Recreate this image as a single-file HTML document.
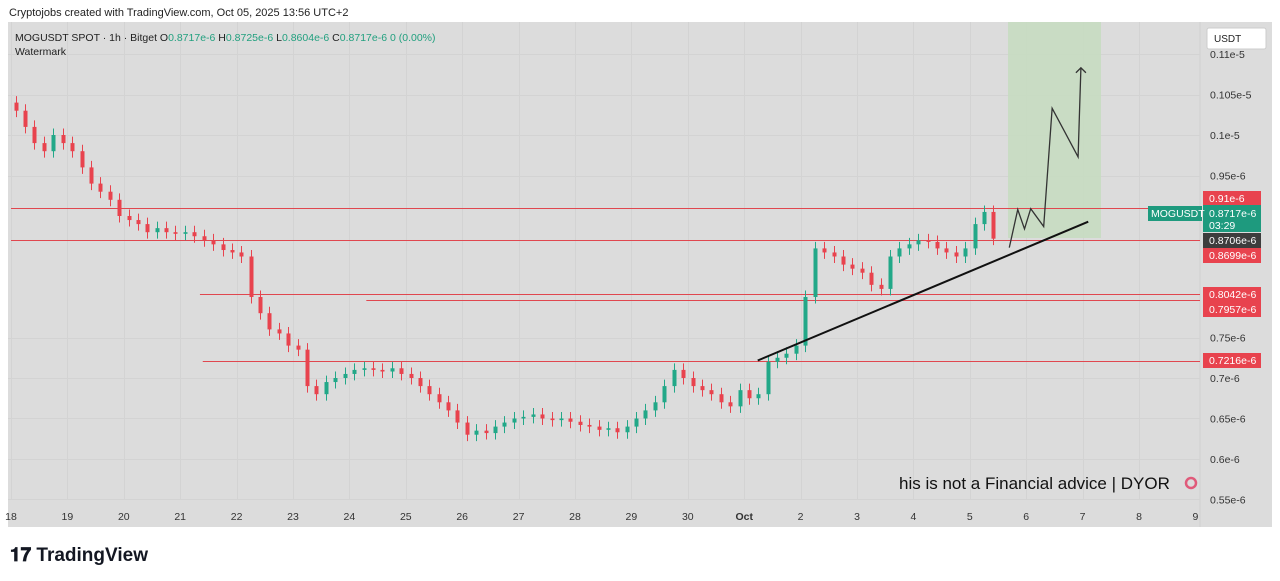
<!DOCTYPE html>
<html><head><meta charset="utf-8"><style>
body{margin:0;width:1280px;height:581px;background:#fff;font-family:"Liberation Sans",sans-serif;overflow:hidden;position:relative}
</style></head><body>
<div style="position:absolute;left:9px;top:7px;font-size:11px;color:#222">Cryptojobs created with TradingView.com, Oct 05, 2025 13:56 UTC+2</div>
<svg id="c" width="1280" height="581" style="position:absolute;left:0;top:0" font-family="Liberation Sans, sans-serif">
<rect x="8" y="22" width="1264" height="505" fill="#dcdcdc"/>
<line x1="1200" y1="22" x2="1200" y2="527" stroke="#cfcfcf"/>
<g id="grid"></g>
<rect x="1008" y="22" width="93" height="216" fill="#c5dcc0" opacity="0.85"/>
<g id="hlines"></g>
<g id="candles"></g>
<line id="trend" stroke="#111" stroke-width="2"/>
<polyline id="proj" fill="none" stroke="#333" stroke-width="1.3"/>
<g id="yt" font-size="10.5" fill="#333"></g>
<g id="xt" font-size="10.5" fill="#333"></g>
<g id="labels" font-size="10.5"></g>
<rect x="1207" y="28" width="59" height="21" fill="#fff" stroke="#ccc" rx="2"/>
<text x="1214" y="42" font-size="10" fill="#222">USDT</text>
<text x="15" y="41" font-size="10.5" fill="#222">MOGUSDT SPOT · 1h · Bitget <tspan>O</tspan><tspan fill="#22a07f">0.8717e-6</tspan> <tspan>H</tspan><tspan fill="#22a07f">0.8725e-6</tspan> <tspan>L</tspan><tspan fill="#22a07f">0.8604e-6</tspan> <tspan>C</tspan><tspan fill="#22a07f">0.8717e-6  0 (0.00%)</tspan></text>
<text x="15" y="55" font-size="10.5" fill="#222">Watermark</text>
<text x="899" y="489" font-size="17" fill="#111">his is not a Financial advice | DYOR</text>
<circle cx="1191" cy="483" r="5" fill="none" stroke="#e05a7a" stroke-width="2.5"/>
<text x="10" y="561" font-size="19" font-weight="bold" fill="#131722">𝟏𝟕 TradingView</text>
</svg>
<script>
const closes=[1.03,1.01,0.99,0.98,1.00,0.99,
0.98,0.96,0.94,0.93,0.92,0.90,
0.895,0.89,0.88,0.885,0.88,0.878,
0.88,0.875,0.87,0.865,0.858,0.855,
0.85,0.80,0.78,0.76,0.755,0.74,
0.735,0.69,0.68,0.695,0.70,0.705,
0.71,0.712,0.71,0.708,0.712,0.705,
0.70,0.69,0.68,0.67,0.66,0.645,
0.63,0.635,0.632,0.64,0.645,0.65,
0.652,0.655,0.65,0.648,0.65,0.646,
0.642,0.64,0.636,0.638,0.633,0.64,
0.65,0.66,0.67,0.69,0.71,0.70,
0.69,0.685,0.68,0.67,0.665,0.685,
0.675,0.68,0.72,0.725,0.73,0.74,
0.80,0.86,0.855,0.85,0.84,0.835,
0.83,0.815,0.81,0.85,0.86,0.865,
0.87,0.868,0.86,0.855,0.85,0.86,
0.89,0.905,0.872];
const firstOpen=1.04;
const yTicks=[1.1,1.05,1.0,0.95,0.75,0.7,0.65,0.6,0.55];
const yTickLabels=["0.11e-5","0.105e-5","0.1e-5","0.95e-6","0.75e-6","0.7e-6","0.65e-6","0.6e-6","0.55e-6"];
const xDays=[18,19,20,21,22,23,24,25,26,27,28,29,30,31,32,33,34,35,36,37,38];
const xLabels=["18","19","20","21","22","23","24","25","26","27","28","29","30","Oct","2","3","4","5","6","7","8","9"];
const levels=[0.91,0.8706,0.8042,0.7957,0.7216];
const levelStarts=[18,18,21.35,24.3,21.4];
const trendPts=[[31.24,0.7216],[37.1,0.893]];
const projDays=[35.7,35.85,35.97,36.08,36.31,36.46,36.92,36.97];
const projVals=[0.861,0.908,0.884,0.909,0.887,1.033,0.973,1.083];
const Y=p=>459-(p-0.6)/0.05*40.5;
const X=d=>11+(d-18)*56.4;
const R=v=>Math.round(v)+0.5;
const NS='http://www.w3.org/2000/svg';
function mk(t,a,par){const e=document.createElementNS(NS,t);for(const k in a)e.setAttribute(k,a[k]);document.getElementById(par).appendChild(e);return e;}
yTicks.forEach((t,i)=>{
 const g=mk('line',{x1:8,x2:1200,y1:R(Y(t)),y2:R(Y(t)),stroke:'#d3d3d3'},'grid');
 
 
 const tx=mk('text',{x:1210,y:Y(t)+4},'yt');tx.textContent=yTickLabels[i];
 
 
});
xDays.forEach((d,i)=>{
 const g=mk('line',{x1:R(X(d)),x2:R(X(d)),y1:22,y2:500,stroke:'#d3d3d3'},'grid');
 
 
});
for(let i=0;i<xLabels.length;i++){const d=18+i;const tx=mk('text',{x:X(d),y:520,'text-anchor':'middle','font-weight':xLabels[i]==='Oct'?'bold':'normal'},'xt');tx.textContent=xLabels[i];
 
 }
levels.forEach((l,i)=>{const e=mk('line',{x1:X(levelStarts[i]),x2:1200,y1:R(Y(l)),y2:R(Y(l)),stroke:'#e0474f','stroke-width':1},'hlines');
 
 });
const step=56.4/6;
closes.forEach((c,i)=>{
 const o=i===0?firstOpen:closes[i-1];
 const x=R(X(18+i/6)+step/2);
 const col=c>=o?'#22a888':'#e8434e';
 const hi=Math.max(o,c)+0.008,lo=Math.min(o,c)-0.008;
 const w=mk('line',{x1:x,x2:x,y1:Y(hi),y2:Y(lo),stroke:col,'stroke-width':1},'candles');
 
 
 const b=mk('rect',{x:x-2,width:4,y:Y(Math.max(o,c)),height:Math.max(1,Math.abs(Y(o)-Y(c))),fill:col},'candles');
 
 
});
const tr=document.getElementById('trend');
tr.setAttribute('x1',X(trendPts[0][0]));tr.setAttribute('y1',Y(trendPts[0][1]));
tr.setAttribute('x2',X(trendPts[1][0]));tr.setAttribute('y2',Y(trendPts[1][1]));
document.getElementById('proj').setAttribute('points',projDays.map((d,i)=>X(d)+','+Y(projVals[i])).join(' '));
const ax=X(projDays[projDays.length-1]),ay=Y(projVals[projVals.length-1]);
const ah=mk('polyline',{points:(ax-5)+','+(ay+5)+' '+ax+','+ay+' '+(ax+5)+','+(ay+5),fill:'none',stroke:'#333','stroke-width':1.3},'labels');


const tags=[["0.91e-6",191,'#e8434e'],["0.8706e-6",233,'#3d3d3d'],["0.8699e-6",248,'#e8434e'],["0.8042e-6",287,'#e8434e'],["0.7957e-6",302,'#e8434e'],["0.7216e-6",353,'#e8434e']];
tags.forEach(t=>{const r=mk('rect',{x:1203,y:t[1],width:58,height:15,fill:t[2]},'labels');
 
 
 const tx=mk('text',{x:1209,y:t[1]+11,fill:'#fff'},'labels');tx.textContent=t[0];
 
 });
const pr=mk('rect',{x:1203,y:205,width:58,height:27,fill:'#1e9a7e'},'labels');


const sym=mk('rect',{x:1148,y:206,width:54,height:15,fill:'#1e9a7e'},'labels');


[["MOGUSDT",1151,217],["0.8717e-6",1209,217],["03:29",1209,229]].forEach(t=>{const tx=mk('text',{x:t[1],y:t[2],fill:'#fff'},'labels');tx.textContent=t[0];
 
 });
</script>
</body></html>
